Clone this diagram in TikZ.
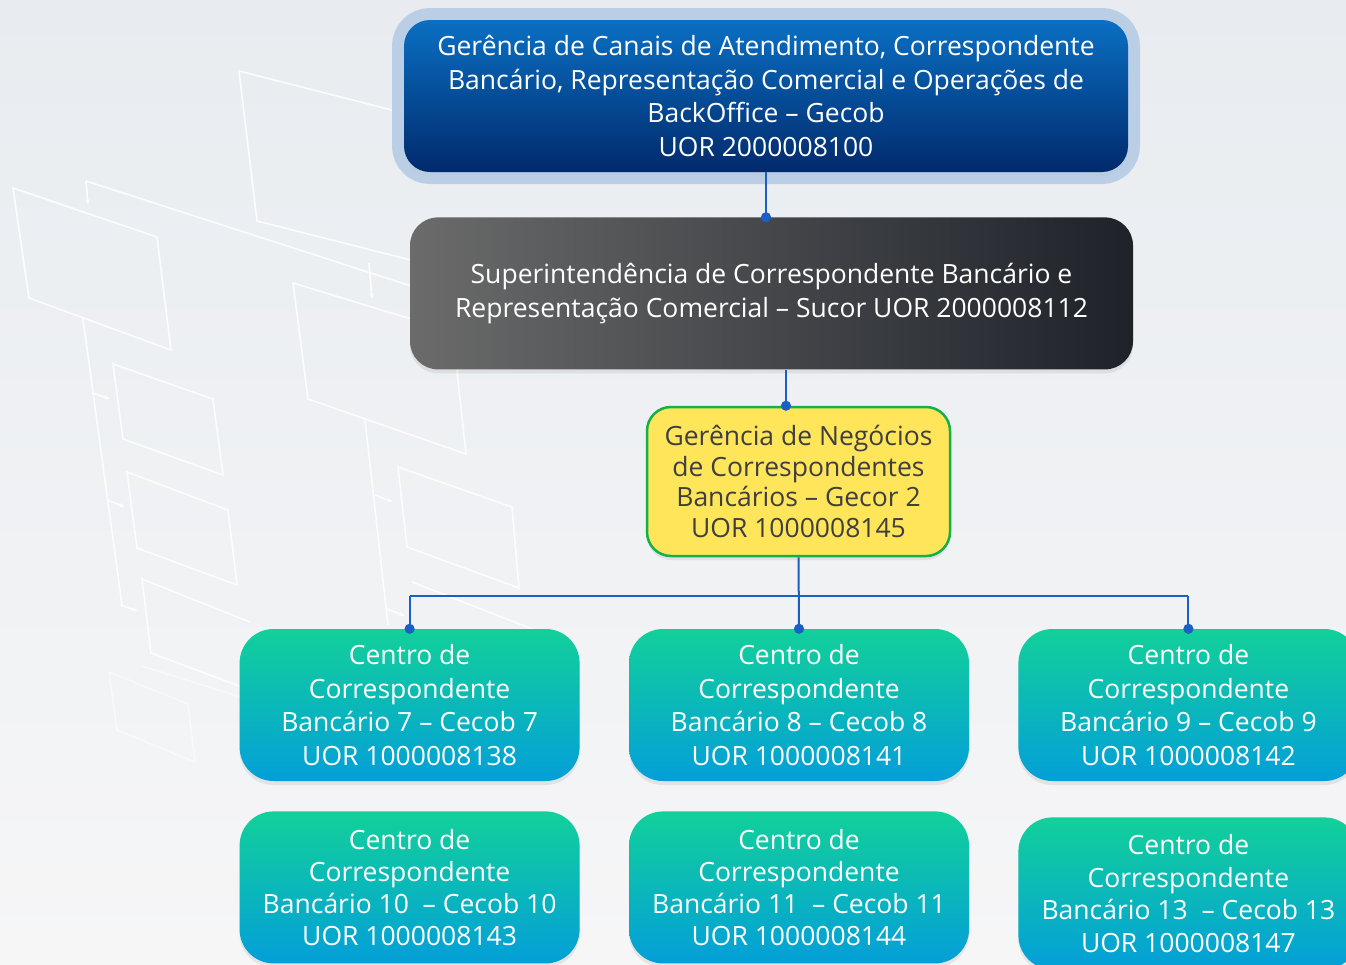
\documentclass[tikz,border=0pt]{standalone}
\usepackage{fontspec}
\setmainfont{Open Sans}
\usepackage{tikz}
\usetikzlibrary{shapes}
\usetikzlibrary{arrows.meta}
\usetikzlibrary{shadows}
\usetikzlibrary{calc}
\usetikzlibrary{positioning}
\usepackage{xcolor}
\definecolor{bgtop}{HTML}{E8ECF0}
\definecolor{bgbot}{HTML}{F6F6F7}
\definecolor{gecobtop}{HTML}{0A6FC3}
\definecolor{gecobbot}{HTML}{012A6C}
\definecolor{halo}{HTML}{B5CBE4}
\definecolor{sucorleft}{HTML}{6B6B6B}
\definecolor{sucorright}{HTML}{1E2229}
\definecolor{gecorfill}{HTML}{FFE55A}
\definecolor{gecorline}{HTML}{14B04A}
\definecolor{gecortext}{HTML}{3F3F3F}
\definecolor{cectop}{HTML}{12D09A}
\definecolor{cecbot}{HTML}{039FD8}
\definecolor{lnblue}{HTML}{1A5FC4}
\tikzset{x=1pt, y=-1pt, node distance=49pt, every text node part/.style={align=center}}
\tikzstyle{box} = [rectangle, inner sep=0pt, text=white, font={\fontsize{26.5}{33.5}\selectfont},
  drop shadow={opacity=0.15, shadow xshift=0pt, shadow yshift=-4pt}]
\tikzstyle{cecob} = [box, rounded corners=34pt, minimum width=340pt, minimum height=152pt,
  top color=cectop, bottom color=cecbot]
\tikzstyle{ln} = [draw=lnblue, line width=2pt, -{Circle[length=10pt]}, shorten >=-5pt]
\tikzstyle{deco} = [draw=white, line width=1.6pt, opacity=0.85]

\begin{document}
\begin{tikzpicture}
  \clip (0,0) rectangle (1346,964);
  \fill[top color=bgtop, bottom color=bgbot] (0,0) rectangle (1346,964);
  % background sketch
  \draw[deco] (470,130) -- (239,71) -- (257,221) -- (470,275);
  \draw[deco] (13,188) -- (157,237) -- (171,350) -- (29,298) -- cycle;
  \draw[deco] (86,181) -- (470,305);
  \draw[deco, -{Stealth[length=6pt]}] (86,181) -- (88,205);
  \draw[deco, -{Stealth[length=6pt]}] (369,263) -- (372,299);
  \draw[deco] (480,340) -- (293,283) -- (308,399) -- (466,454) -- (457,371) -- (470,360);
  \draw[deco] (83,319) -- (122,605);
  \draw[deco, -{Stealth[length=6pt]}] (93,393) -- (110,399);
  \draw[deco, -{Stealth[length=6pt]}] (107,500) -- (125,507);
  \draw[deco, -{Stealth[length=6pt]}] (120,605) -- (138,611);
  \draw[deco] (113,364) -- (213,399) -- (223,475) -- (123,439) -- cycle;
  \draw[deco] (127,472) -- (228,510) -- (237,585) -- (137,548) -- cycle;
  \draw[deco] (250,622) -- (142,579) -- (151,653) -- (250,690);
  \draw[deco, opacity=0.5] (109,672) -- (188,704) -- (195,762) -- (117,730) -- cycle;
  \draw[deco, opacity=0.5] (142,666) -- (250,700);
  \draw[deco] (365,420) -- (388,625);
  \draw[deco, -{Stealth[length=6pt]}] (375,495) -- (393,502);
  \draw[deco, -{Stealth[length=6pt]}] (387,609) -- (405,616);
  \draw[deco] (398,467) -- (512,507) -- (519,588) -- (407,547) -- cycle;
  \draw[deco] (412,582) -- (540,632);

  \node[box, rounded corners=26pt, minimum width=724pt, minimum height=152pt,
    top color=gecobtop, bottom color=gecobbot,
    preaction={draw=halo, line width=24pt, opacity=0.9}] (gecob) at (766,96)
    {Gerência de Canais de Atendimento, Correspondente\\Bancário, Representação Comercial e Operações de\\BackOffice – Gecob\\UOR 2000008100};
  \node[box, rounded corners=28pt, minimum width=723pt, minimum height=152pt,
    left color=sucorleft, right color=sucorright,
    below=45pt of gecob, xshift=5.5pt] (sucor)
    {Superintendência de Correspondente Bancário e\\Representação Comercial – Sucor UOR 2000008112};
  \node[box, rounded corners=24pt, minimum width=303pt, minimum height=149pt,
    fill=gecorfill, draw=gecorline, line width=2.5pt, text=gecortext,
    font={\fontsize{26.5}{30.5}\selectfont}] (gecor) at (798.5,481.5)
    {Gerência de Negócios\\de Correspondentes\\Bancários – Gecor 2\\UOR 1000008145};

  \node[cecob] (cecob8) at (799,705) {Centro de\\Correspondente\\Bancário 8 – Cecob 8\\UOR 1000008141};
  \node[cecob, left=of cecob8] (cecob7) {Centro de\\Correspondente\\Bancário 7 – Cecob 7\\UOR 1000008138};
  \node[cecob, right=of cecob8] (cecob9) {Centro de\\Correspondente\\Bancário 9 – Cecob 9\\UOR 1000008142};
  \node[cecob, below=30pt of cecob7, font={\fontsize{26.5}{32}\selectfont}] (cecob10) {Centro de\\Correspondente\\Bancário 10\ \ – Cecob 10\\UOR 1000008143};
  \node[cecob, below=30pt of cecob8, font={\fontsize{26.5}{32}\selectfont}] (cecob11) {Centro de\\Correspondente\\Bancário 11\ \ – Cecob 11\\UOR 1000008144};
  \node[cecob, below=36pt of cecob9, font={\fontsize{26.5}{32.5}\selectfont}] (cecob13) {Centro de\\Correspondente\\Bancário 13\ \ – Cecob 13\\UOR 1000008147};

  \coordinate (bus) at (799,596);
  \draw[ln] (gecob.south) -- (gecob.south |- sucor.north);
  \draw[ln] ([xshift=-12.5pt]gecor.north |- sucor.south) -- ([xshift=-12.5pt]gecor.north);
  \draw[ln] (gecor.south) -- (cecob8.north);
  \draw[draw=lnblue, line width=1.5pt] (bus -| cecob7.north) -- (bus -| cecob9.north);
  \draw[ln] (bus -| cecob7.north) -- (cecob7.north);
  \draw[ln] (bus -| cecob9.north) -- (cecob9.north);
\end{tikzpicture}
\end{document}
